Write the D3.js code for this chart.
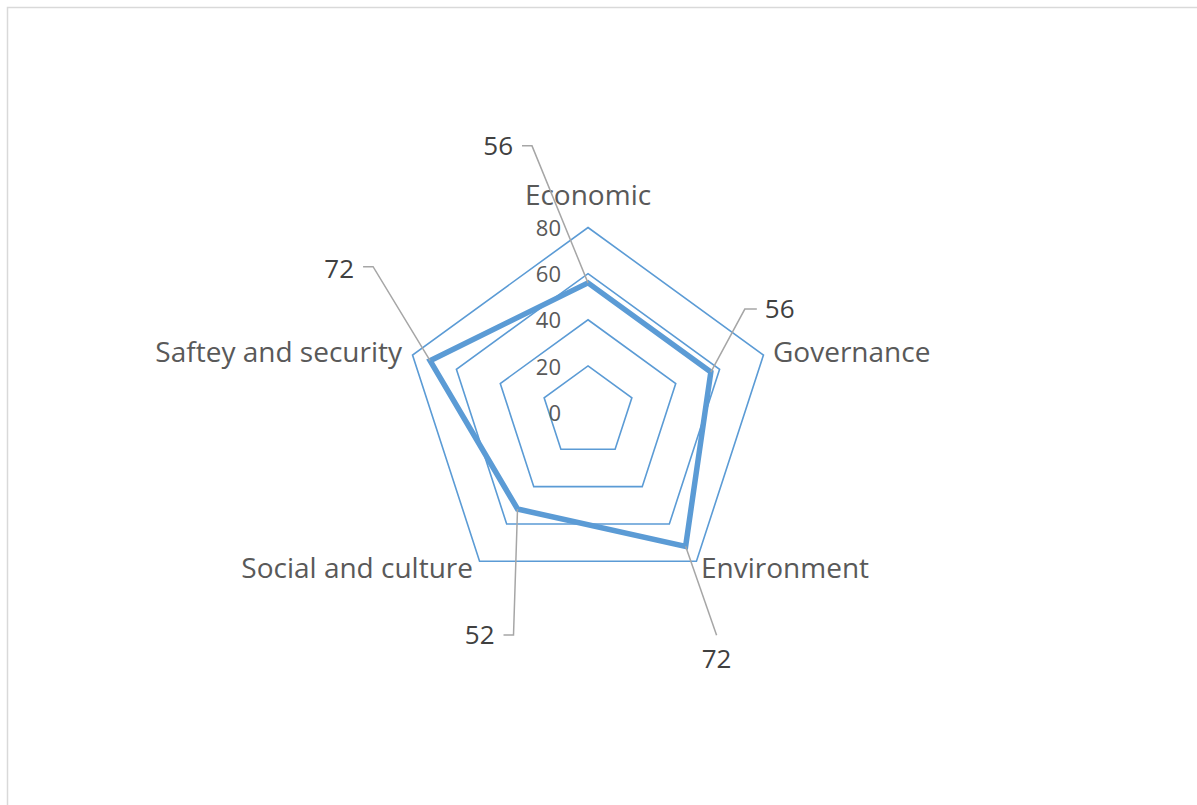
<!DOCTYPE html>
<html><head><meta charset="utf-8">
<script src="https://cdn.jsdelivr.net/npm/d3@7"></script>
<style>body{margin:0;background:#fff;}svg{display:block;}</style>
</head><body>
<svg id="chart" width="1197" height="805"></svg>
<script>
const categories = ["Economic", "Governance", "Environment", "Social and culture", "Saftey and security"];
const values = [56, 56, 72, 52, 72];
const tickValues = [0, 20, 40, 60, 80];
const rMax = 80;

const W = 1197, H = 805;
const cx = 588, cy = 412, R = 184.5;
const svg = d3.select("#chart");
const font = "'Open Sans', 'Liberation Sans', sans-serif";

svg.append("rect").attr("x", 7.5).attr("y", 7.5).attr("width", W + 20).attr("height", H + 20)
  .attr("fill", "#fff").attr("stroke", "#d9d9d9").attr("stroke-width", 1.5);

const r = d3.scaleLinear().domain([0, rMax]).range([0, R]);
const n = categories.length;
const ang = i => -Math.PI / 2 + i * 2 * Math.PI / n;
const pt = (i, v) => [cx + r(v) * Math.cos(ang(i)), cy + r(v) * Math.sin(ang(i))];

const g = svg.append("g");
// grid rings
tickValues.filter(t => t > 0).forEach(t => {
  g.append("path")
    .attr("d", d3.line()(d3.range(n).map(i => pt(i, t))) + "Z")
    .attr("fill", "none").attr("stroke", "#5b9bd5").attr("stroke-width", 1.6);
});
// tick labels
tickValues.forEach(t => {
  const p = pt(0, t);
  g.append("text").attr("x", p[0] - 27).attr("y", p[1] + 1).attr("dy", "0.35em")
    .attr("text-anchor", "end").attr("font-family", font).attr("font-size", 22)
    .attr("fill", "#595959").text(t);
});

// data series
g.append("path")
  .attr("d", d3.line()(values.map((v, i) => pt(i, v))) + "Z")
  .attr("fill", "none").attr("stroke", "#5b9bd5").attr("stroke-width", 5.5).attr("stroke-linejoin", "miter");

// category labels
const catPos = [
  {dx: 0, dy: -217, anchor: "middle"},
  {dx: 185, dy: -60, anchor: "start"},
  {dx: 113, dy: 156, anchor: "start"},
  {dx: -115, dy: 156, anchor: "end"},
  {dx: -186, dy: -60, anchor: "end"}
];
categories.forEach((c, i) => {
  g.append("text").attr("x", cx + catPos[i].dx).attr("y", cy + catPos[i].dy).attr("dy", "0.35em")
    .attr("text-anchor", catPos[i].anchor).attr("font-family", font).attr("font-size", 28)
    .attr("fill", "#595959").text(c);
});

// data labels with leader lines (offsets relative to data point)
const lblPos = [
  {bend: [-56, -137], end: [-66, -137], text: [-75, -137], anchor: "end"},
  {bend: [34, -63], end: [46, -63], text: [54, -63], anchor: "start"},
  {bend: [31, 89], end: null, text: [31, 113], anchor: "middle"},
  {bend: [-4, 126], end: [-14, 126], text: [-23, 126], anchor: "end"},
  {bend: [-57, -94], end: [-67, -94], text: [-76, -92], anchor: "end"}
];
values.forEach((v, i) => {
  const p = pt(i, v);
  const L = lblPos[i];
  const pts = [p, [p[0] + L.bend[0], p[1] + L.bend[1]]];
  if (L.end) pts.push([p[0] + L.end[0], p[1] + L.end[1]]);
  g.append("path").attr("d", d3.line()(pts)).attr("fill", "none")
    .attr("stroke", "#a6a6a6").attr("stroke-width", 1.5);
  g.append("text").attr("x", p[0] + L.text[0]).attr("y", p[1] + L.text[1]).attr("dy", "0.35em")
    .attr("text-anchor", L.anchor).attr("font-family", font).attr("font-size", 26)
    .attr("fill", "#404040").text(v);
});
</script>
</body></html>
